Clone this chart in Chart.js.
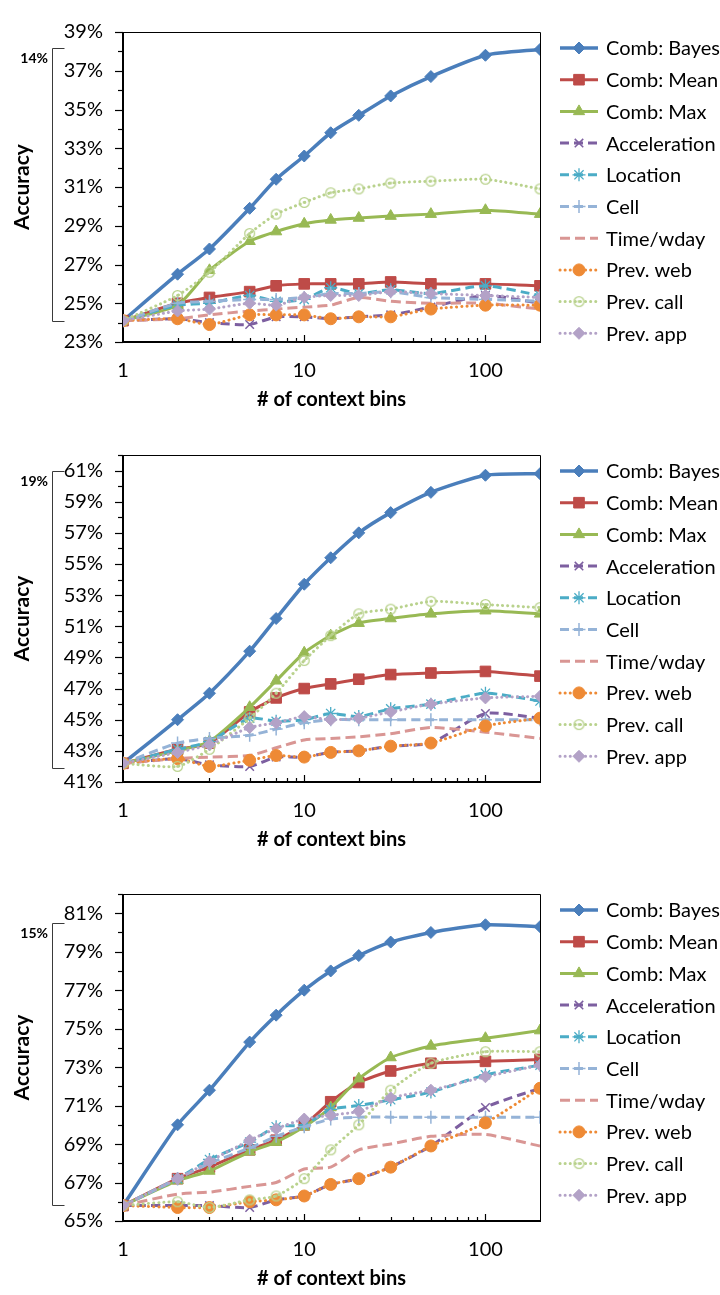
<!DOCTYPE html>
<html>
<head>
<meta charset="utf-8">
<script src="https://cdn.jsdelivr.net/npm/chart.js@4.4.1/dist/chart.umd.min.js"></script>
<style>
  html, body { margin: 0; padding: 0; background: #fff; width: 720px; height: 1295px; overflow: hidden; }
  canvas { position: absolute; left: 0; }
</style>
</head>
<body>
<canvas id="c1" width="720" height="414" style="top:0px"></canvas>
<canvas id="c2" width="720" height="440" style="top:414px"></canvas>
<canvas id="c3" width="720" height="439" style="top:854px"></canvas>
<script>
// Number of context bins (x values, log scale)
const bins = [1, 2, 3, 5, 7, 10, 14, 20, 30, 50, 100, 200];
const xTickLabels = [1, 10, 100];

const seriesNames = ['Comb: Bayes', 'Comb: Mean', 'Comb: Max', 'Acceleration', 'Location',
                     'Cell', 'Time/wday', 'Prev. web', 'Prev. call', 'Prev. app'];

// Panel 1 accuracy (%)
const p1Bayes = [24.1, 26.5, 27.8, 29.9, 31.4, 32.6, 33.8, 34.7, 35.7, 36.7, 37.8, 38.1];
const p1Mean  = [24.1, 25.0, 25.3, 25.6, 25.9, 26.0, 26.0, 26.0, 26.1, 26.0, 26.0, 25.9];
const p1Max   = [24.1, 24.9, 26.7, 28.2, 28.7, 29.1, 29.3, 29.4, 29.5, 29.6, 29.8, 29.6];
const p1Accel = [24.1, 24.2, 24.0, 23.9, 24.3, 24.3, 24.2, 24.3, 24.4, 24.8, 25.4, 25.0];
const p1Loc   = [24.1, 24.9, 25.0, 25.4, 25.1, 25.2, 25.8, 25.5, 25.7, 25.5, 25.9, 25.4];
const p1Cell  = [24.1, 25.0, 25.1, 25.2, 25.2, 25.3, 25.5, 25.5, 25.6, 25.3, 25.2, 25.1];
const p1Time  = [24.1, 24.2, 24.4, 24.6, 24.7, 24.8, 24.9, 25.3, 25.1, 25.0, 25.0, 24.7];
const p1Web   = [24.1, 24.2, 23.9, 24.4, 24.4, 24.4, 24.2, 24.3, 24.3, 24.7, 24.9, 24.9];
const p1Call  = [24.1, 25.4, 26.6, 28.6, 29.6, 30.2, 30.7, 30.9, 31.2, 31.3, 31.4, 30.9];
const p1App   = [24.1, 24.6, 24.7, 25.0, 24.9, 25.3, 25.4, 25.4, 25.6, 25.5, 25.4, 25.3];
const p1Span  = [24.06, 38.15];

// Panel 2 accuracy (%)
const p2Bayes = [42.2, 45.0, 46.7, 49.4, 51.5, 53.7, 55.4, 57.0, 58.3, 59.6, 60.7, 60.8];
const p2Mean  = [42.2, 43.1, 43.5, 45.5, 46.4, 47.0, 47.3, 47.6, 47.9, 48.0, 48.1, 47.8];
const p2Max   = [42.2, 43.0, 43.6, 45.8, 47.5, 49.3, 50.4, 51.2, 51.5, 51.8, 52.0, 51.8];
const p2Accel = [42.2, 42.5, 42.1, 42.0, 42.6, 42.6, 42.9, 43.0, 43.3, 43.5, 45.4, 45.1];
const p2Loc   = [42.2, 43.1, 43.6, 45.1, 44.9, 45.0, 45.4, 45.2, 45.7, 46.0, 46.7, 46.2];
const p2Cell  = [42.2, 43.5, 43.8, 44.0, 44.4, 44.8, 45.0, 45.0, 45.0, 45.0, 45.0, 45.0];
const p2Time  = [42.2, 42.5, 42.6, 42.7, 43.2, 43.7, 43.8, 43.9, 44.1, 44.5, 44.2, 43.8];
const p2Web   = [42.2, 42.5, 42.0, 42.4, 42.7, 42.6, 42.9, 43.0, 43.3, 43.5, 44.6, 45.1];
const p2Call  = [42.2, 42.0, 43.1, 45.1, 46.7, 48.8, 50.4, 51.8, 52.1, 52.6, 52.4, 52.2];
const p2App   = [42.2, 42.9, 43.4, 44.5, 44.8, 45.2, 45.0, 45.1, 45.5, 46.0, 46.4, 46.5];
const p2Span  = [41.9, 61.0];

// Panel 3 accuracy (%)
const p3Bayes = [65.8, 70.0, 71.8, 74.3, 75.7, 77.0, 78.0, 78.8, 79.5, 80.0, 80.4, 80.3];
const p3Mean  = [65.8, 67.2, 67.8, 68.7, 69.2, 70.0, 71.2, 72.2, 72.8, 73.2, 73.3, 73.4];
const p3Max   = [65.8, 67.1, 67.6, 68.6, 69.1, 69.9, 70.9, 72.4, 73.5, 74.1, 74.5, 74.9];
const p3Accel = [65.8, 65.8, 65.8, 65.7, 66.1, 66.3, 66.9, 67.2, 67.8, 68.9, 70.9, 71.9];
const p3Loc   = [65.8, 67.2, 68.2, 69.1, 69.9, 70.0, 70.8, 71.0, 71.3, 71.7, 72.6, 73.1];
const p3Cell  = [65.8, 67.2, 68.0, 68.8, 69.4, 69.9, 70.3, 70.4, 70.4, 70.4, 70.4, 70.4];
const p3Time  = [65.8, 66.4, 66.5, 66.8, 67.0, 67.7, 67.8, 68.7, 69.0, 69.4, 69.5, 68.9];
const p3Web   = [65.8, 65.7, 65.7, 66.0, 66.1, 66.3, 66.9, 67.2, 67.8, 68.9, 70.1, 71.9];
const p3Call  = [65.8, 66.0, 65.7, 66.1, 66.3, 67.2, 68.7, 70.0, 71.8, 73.2, 73.8, 73.8];
const p3App   = [65.8, 67.2, 68.1, 69.2, 69.8, 70.3, 70.5, 70.7, 71.4, 71.8, 72.5, 73.1];
const p3Span  = [65.84, 80.5];

// Hollow ring with a centre dot, used as the "Prev. call" marker
function ringDot(color) {
  const c = document.createElement('canvas');
  c.width = 13; c.height = 13;
  const g = c.getContext('2d');
  g.strokeStyle = color; g.lineWidth = 1.3;
  g.beginPath(); g.arc(6.5, 6.5, 4.9, 0, Math.PI * 2); g.stroke();
  g.fillStyle = color;
  g.beginPath(); g.arc(6.5, 6.5, 1.4, 0, Math.PI * 2); g.fill();
  return c;
}

const DASH = [9, 5];
const DOT = [0.1, 5];
const seriesStyles = [
  { color: '#4A7EBB', width: 3.5, dash: [],   point: 'rectRot',  r: 6,   pbw: 1 },
  { color: '#BE4B48', width: 3,   dash: [],   point: 'rect',     r: 7.5, pbw: 1 },
  { color: '#98B954', width: 3,   dash: [],   point: 'triangle', r: 6.5, pbw: 1 },
  { color: '#7D5FA0', width: 3,   dash: DASH, point: 'crossRot', r: 6,   pbw: 1.5 },
  { color: '#4BACC6', width: 3,   dash: DASH, point: 'star',     r: 6.5, pbw: 1.3 },
  { color: '#95B3D7', width: 3,   dash: DASH, point: 'cross',    r: 6.5, pbw: 1.5 },
  { color: '#D99694', width: 3,   dash: [10, 5], point: 'circle', r: 0,  pbw: 0 },
  { color: '#EE8A35', width: 3,   dash: DOT,  point: 'circle',   r: 6,   pbw: 1, cap: 'round' },
  { color: '#B9D28D', width: 3,   dash: DOT,  point: ringDot('#B9D28D'), r: 5, pbw: 0, cap: 'round' },
  { color: '#B3A2C7', width: 3,   dash: DOT,  point: 'rectRot',  r: 6,   pbw: 1, cap: 'round' }
];

const panels = [
  { id: 'c1', yMin: 23, yMax: 39, padTop: 16,
    series: [p1Bayes, p1Mean, p1Max, p1Accel, p1Loc, p1Cell, p1Time, p1Web, p1Call, p1App], span: p1Span },
  { id: 'c2', yMin: 41, yMax: 62, padTop: 41,
    series: [p2Bayes, p2Mean, p2Max, p2Accel, p2Loc, p2Cell, p2Time, p2Web, p2Call, p2App], span: p2Span },
  { id: 'c3', yMin: 65, yMax: 82, padTop: 40,
    series: [p3Bayes, p3Mean, p3Max, p3Accel, p3Loc, p3Cell, p3Time, p3Web, p3Call, p3App], span: p3Span }
];

const FONT = 'Lato';

function drawMarker(ctx, st, x, y) {
  if (!st.r) return;
  ctx.save();
  ctx.setLineDash([]);
  ctx.fillStyle = st.color;
  ctx.strokeStyle = st.color;
  ctx.lineWidth = st.pbw;
  if (Chart.helpers && Chart.helpers.drawPoint) {
    Chart.helpers.drawPoint(ctx, { pointStyle: st.point, radius: st.r, borderWidth: st.pbw, rotation: 0 }, x, y);
  } else if (st.point instanceof HTMLCanvasElement) {
    ctx.drawImage(st.point, x - st.point.width / 2, y - st.point.height / 2);
  }
  ctx.restore();
}

// Axis frame, inward x tick marks and outward y tick marks
const framePlugin = {
  id: 'frame',
  beforeDatasetsDraw(chart) {
    const { ctx, chartArea: a, scales: { x, y } } = chart;
    ctx.save();
    ctx.strokeStyle = '#000';
    ctx.lineWidth = 1;
    ctx.beginPath();
    ctx.moveTo(a.left, a.top + 0.5); ctx.lineTo(a.right + 0.5, a.top + 0.5);
    ctx.lineTo(a.right + 0.5, a.bottom);
    ctx.stroke();
    ctx.lineWidth = 1.2;
    for (let v = y.min; v <= y.max; v++) {
      const py = Math.round(y.getPixelForValue(v)) + 0.5;
      const len = (v % 2 !== 0) ? 8 : 5;
      ctx.beginPath(); ctx.moveTo(a.left - len, py); ctx.lineTo(a.left, py); ctx.stroke();
    }
    for (let dec = 1; dec <= 100; dec *= 10) {
      for (let m = 1; m <= 9; m++) {
        const v = m * dec;
        if (v <= x.min || v >= x.max) continue;
        const px = Math.round(x.getPixelForValue(v)) + 0.5;
        const len = (m === 1) ? 7 : 4;
        ctx.beginPath(); ctx.moveTo(px, a.bottom); ctx.lineTo(px, a.bottom - len); ctx.stroke();
      }
    }
    ctx.lineWidth = 2;
    ctx.beginPath();
    ctx.moveTo(a.left, a.top); ctx.lineTo(a.left, a.bottom); ctx.lineTo(a.right + 1, a.bottom);
    ctx.stroke();
    ctx.restore();
  }
};

// Legend drawn in the right-hand margin, and the gain bracket on the left
const sidePlugin = {
  id: 'side',
  afterDraw(chart, args, opts) {
    const { ctx, chartArea: a, scales: { y } } = chart;
    ctx.save();
    const x0 = 560, x1 = 598, tx = 606;
    ctx.font = '20px ' + FONT;
    ctx.textBaseline = 'middle';
    ctx.textAlign = 'left';
    seriesNames.forEach((name, i) => {
      const st = seriesStyles[i];
      const ly = a.top + 16 + i * 31.7;
      ctx.save();
      ctx.strokeStyle = st.color;
      ctx.lineWidth = st.width;
      ctx.lineCap = st.cap || 'butt';
      ctx.setLineDash(st.dash);
      ctx.beginPath(); ctx.moveTo(x0, ly); ctx.lineTo(x1, ly); ctx.stroke();
      ctx.restore();
      drawMarker(ctx, st, (x0 + x1) / 2, ly);
      ctx.fillStyle = '#000';
      ctx.fillText(name, tx, ly + 1);
    });
    const span = opts.span;
    const yTop = Math.round(y.getPixelForValue(span[1])) + 0.5;
    const yBot = Math.round(y.getPixelForValue(span[0])) + 0.5;
    const bx = 52.5;
    ctx.strokeStyle = '#3a3a3a';
    ctx.lineWidth = 1;
    ctx.beginPath();
    ctx.moveTo(bx + 12, yTop); ctx.lineTo(bx, yTop); ctx.lineTo(bx, yBot); ctx.lineTo(bx + 12, yBot);
    ctx.stroke();
    ctx.fillStyle = '#000';
    ctx.font = 'bold 14px ' + FONT;
    ctx.textAlign = 'right';
    ctx.fillText(Math.round(span[1] - span[0]) + '%', 48, yTop + 10);
    ctx.restore();
  }
};

panels.forEach(p => {
  const datasets = p.series.map((vals, i) => {
    const st = seriesStyles[i];
    return {
      label: seriesNames[i],
      data: vals.map((v, k) => ({ x: bins[k], y: v })),
      borderColor: st.color,
      backgroundColor: st.color,
      borderWidth: st.width,
      borderDash: st.dash,
      borderCapStyle: st.cap || 'butt',
      tension: 0.2,
      pointStyle: st.point,
      pointRadius: st.r,
      pointBorderWidth: st.pbw,
      pointBackgroundColor: st.color,
      pointBorderColor: st.color,
      order: seriesNames.length - i,
      fill: false
    };
  });

  new Chart(document.getElementById(p.id), {
    type: 'line',
    data: { datasets },
    options: {
      responsive: false,
      animation: false,
      devicePixelRatio: 1,
      layout: { padding: { left: 0, right: 180, top: p.padTop, bottom: 0 } },
      plugins: {
        legend: { display: false },
        tooltip: { enabled: false },
        side: { span: p.span }
      },
      scales: {
        x: {
          type: 'logarithmic', min: 1, max: 200,
          afterFit: s => { s.height = 72; },
          grid: { display: false, drawTicks: false },
          border: { display: false },
          ticks: {
            autoSkip: false, maxRotation: 0, minRotation: 0, padding: 17,
            color: '#000', font: { family: FONT, size: 20 },
            callback: v => xTickLabels.includes(v) ? String(v) : ''
          },
          title: {
            display: true, text: '# of context bins', color: '#000',
            font: { family: FONT, size: 20, weight: 'bold' },
            padding: { top: 0, bottom: 2 }
          }
        },
        y: {
          type: 'linear', min: p.yMin, max: p.yMax,
          afterFit: s => { s.width = 123; },
          grid: { display: false, drawTicks: false },
          border: { display: false },
          ticks: {
            stepSize: 1, autoSkip: false, padding: 20,
            color: '#000', font: { family: FONT, size: 20 },
            callback: v => (Math.round(v) % 2 !== 0) ? Math.round(v) + '%' : ''
          },
          title: {
            display: true, text: 'Accuracy', color: '#000',
            font: { family: FONT, size: 21, weight: 'bold' },
            padding: { top: 10, bottom: 0 }
          }
        }
      }
    },
    plugins: [framePlugin, sidePlugin]
  });
});
</script>
</body>
</html>
